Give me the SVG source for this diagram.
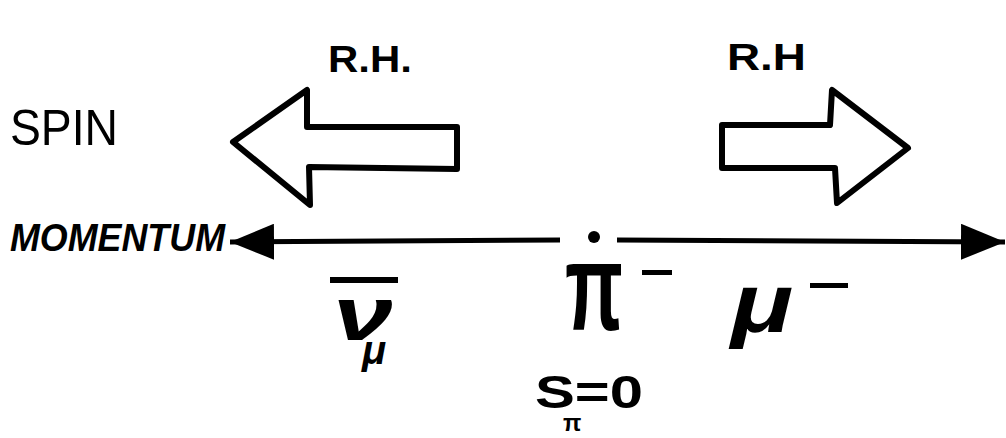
<svg xmlns="http://www.w3.org/2000/svg" width="1006" height="438" viewBox="0 0 1006 438">
<style>
text{font-family:"Liberation Sans","DejaVu Sans",sans-serif;fill:#000}
.lbl{font-size:37px;font-weight:bold}
.big{font-size:50px}
.spin{fill:#fff;stroke:#000;stroke-width:6;stroke-linejoin:round}
.line{stroke:#000;stroke-width:5;fill:none}
</style>
<defs>
<marker id="ah" viewBox="0 0 44 36" refX="44" refY="18" markerWidth="44" markerHeight="36" markerUnits="userSpaceOnUse" orient="auto">
<path d="M0,0 L44,18 L0,36 Z" fill="#000"/>
</marker>
</defs>
<rect width="1006" height="438" fill="#fff"/>
<g id="spin-label"><text class="big" x="10" y="145" textLength="108" lengthAdjust="spacingAndGlyphs">SPIN</text></g>
<g id="momentum-label"><text x="10" y="251" font-size="38" font-weight="bold" font-style="italic" textLength="215" lengthAdjust="spacingAndGlyphs">MOMENTUM</text></g>
<g id="rh-left"><text class="lbl" x="328" y="72" textLength="84" lengthAdjust="spacingAndGlyphs">R.H.</text></g>
<g id="rh-right"><text class="lbl" x="727" y="70" textLength="79" lengthAdjust="spacingAndGlyphs">R.H</text></g>
<g id="spin-left"><path class="spin" d="M233,142 L307,90 L307,127 L457,127 L457,169 L309,167 L310,205 Z"/></g>
<g id="spin-right"><path class="spin" d="M908,148 L832,90 L830,125 L722,125 L722,168 L835,168 L837,203 Z"/></g>
<g id="connectors">
<line class="line" x1="560" y1="240" x2="230" y2="242" marker-end="url(#ah)"/>
<line class="line" x1="617" y1="240" x2="1005" y2="242" marker-end="url(#ah)"/>
</g>
<g id="pion"><circle cx="594" cy="237" r="6" fill="#000"/>
<text x="565" y="330" font-size="124" font-weight="bold" textLength="58" lengthAdjust="spacingAndGlyphs">π</text>
<rect x="642" y="270" width="30" height="5" fill="#000"/></g>
<g id="antineutrino">
<rect x="330" y="277" width="68" height="6" fill="#000"/>
<text x="333" y="340" font-size="76" font-weight="bold" font-style="italic" textLength="60" lengthAdjust="spacingAndGlyphs">ν</text>
<text x="362" y="364" font-size="40" font-weight="bold" font-style="italic">μ</text>
</g>
<g id="muon">
<text x="731" y="332" font-size="84" font-weight="bold" font-style="italic" textLength="62" lengthAdjust="spacingAndGlyphs">μ</text>
<rect x="810" y="283" width="38" height="5" fill="#000"/>
</g>
<g id="spin-zero">
<text x="535" y="408" font-size="46" font-weight="bold" textLength="108" lengthAdjust="spacingAndGlyphs">S=0</text>
<text x="563" y="431" font-size="24" font-weight="bold">π</text>
</g>
</svg>
